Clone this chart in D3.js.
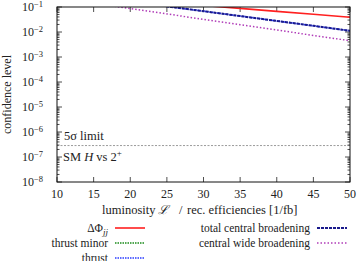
<!DOCTYPE html>
<html>
<head>
<meta charset="utf-8">
<title>confidence level vs luminosity</title>
<script src="https://cdn.jsdelivr.net/npm/d3@7"></script>
<style>
  body { margin: 0; background: #fff; }
  text { font-family: "Liberation Serif", "DejaVu Serif", serif; fill: #222; }
</style>
</head>
<body>
<div id="chart"></div>
<script>

    // luminosity grid (1/fb)
    var lumi = [10, 15, 20, 25, 30, 35, 40, 45, 50];

    // confidence levels (null = off the top)
    var deltaPhi   = [null, null, null, null, 0.115, 0.088, 0.067, 0.051, 0.039];
    var thrustMin  = [];
    var thrust     = [null, null, null, 0.106, 0.068, 0.0434, 0.0277, 0.0177, 0.0112];
    var totCentral = [null, null, null, 0.106, 0.068, 0.0434, 0.0277, 0.0177, 0.0112];
    var cenWide    = [null, null, 0.087, 0.053, 0.032, 0.0197, 0.012, 0.0073, 0.0045];

    var xTicks = [10, 15, 20, 25, 30, 35, 40, 45, 50];
    var yExps = [-1, -2, -3, -4, -5, -6, -7, -8];
    var fiveSigma = 2.87e-7;

    var series = [
        { name: "thrust minor", vals: thrustMin, color: "#1a8a1a", width: 1.5, dash: "1.5,1" },
        { name: "thrust", vals: thrust, color: "#2a3cff", width: 1.5, dash: "1.5,1" },
        { name: "total central broadening", vals: totCentral, color: "#1a1a8c", width: 2, dash: "3,1" },
        { name: "central wide broadening", vals: cenWide, color: "#b03cb8", width: 1.5, dash: "1.5,2" },
        { name: "\u0394\u03A6jj", vals: deltaPhi, color: "#ff2020", width: 1.6, dash: null }
    ];

    var W = 357, H = 261;
    var margin = { left: 57, right: 7, top: 7, bottom: 79 };

    var svg = d3.select("#chart").append("svg")
        .attr("width", W)
        .attr("height", H);

    var x = d3.scaleLinear().domain([10, 50]).range([margin.left, W - margin.right]);
    var y = d3.scaleLog().domain([1e-8, 1e-1]).range([H - margin.bottom, margin.top]);

    svg.append("clipPath").attr("id", "clip")
        .append("rect")
            .attr("x", x(10)).attr("y", y(1e-1))
            .attr("width", x(50) - x(10)).attr("height", y(1e-8) - y(1e-1));

    // minor ticks on log axis
    var minor = [];
    for (var e = -8; e < -1; e++) {
        for (var m = 2; m <= 9; m++) minor.push(m * Math.pow(10, e));
    }

    var ticks = svg.append("g").attr("stroke", "#222").attr("stroke-width", 0.8);
    yExps.forEach(function(e) {
        var yy = y(Math.pow(10, e));
        ticks.append("line").attr("x1", x(10)).attr("x2", x(10) + 5).attr("y1", yy).attr("y2", yy);
        ticks.append("line").attr("x1", x(50)).attr("x2", x(50) - 5).attr("y1", yy).attr("y2", yy);
    });
    minor.forEach(function(v) {
        var yy = y(v);
        ticks.append("line").attr("x1", x(10)).attr("x2", x(10) + 2.5).attr("y1", yy).attr("y2", yy);
        ticks.append("line").attr("x1", x(50)).attr("x2", x(50) - 2.5).attr("y1", yy).attr("y2", yy);
    });
    xTicks.forEach(function(t) {
        var xx = x(t);
        ticks.append("line").attr("x1", xx).attr("x2", xx).attr("y1", y(1e-8)).attr("y2", y(1e-8) - 5);
        ticks.append("line").attr("x1", xx).attr("x2", xx).attr("y1", y(1e-1)).attr("y2", y(1e-1) + 5);
    });

    // 5 sigma line
    svg.append("line")
        .attr("x1", x(10)).attr("x2", x(50))
        .attr("y1", y(fiveSigma)).attr("y2", y(fiveSigma))
        .attr("stroke", "#555").attr("stroke-width", 0.6).attr("stroke-dasharray", "2,1.5");

    svg.append("text").attr("x", x(10) + 7).attr("y", y(fiveSigma) - 6)
        .attr("font-size", 12.5).text("5\u03C3 limit");
    var sm = svg.append("text").attr("x", x(10) + 6).attr("y", y(fiveSigma) + 15)
        .attr("font-size", 12.5);
    sm.append("tspan").text("SM ");
    sm.append("tspan").attr("font-style", "italic").text("H");
    sm.append("tspan").text(" vs 2");
    sm.append("tspan").attr("font-size", 9).attr("dy", -5).text("+");

    // curves
    var line = d3.line()
        .defined(function(d) { return d.v != null; })
        .x(function(d) { return x(d.l); })
        .y(function(d) { return y(d.v); });

    var curves = svg.append("g").attr("clip-path", "url(#clip)");
    series.forEach(function(s) {
        var pts = lumi.map(function(l, i) { return { l: l, v: s.vals[i] == null ? null : s.vals[i] }; });
        var first = pts.findIndex(function(p) { return p.v != null; });
        if (first < 0) return;
        // extend first visible segment above the top so the line reaches the frame
        if (first > 0) {
            var a = pts[first], b = pts[first + 1];
            var slope = (Math.log10(b.v) - Math.log10(a.v)) / (b.l - a.l);
            pts[first - 1] = { l: pts[first - 1].l, v: Math.pow(10, Math.log10(a.v) - slope * (a.l - pts[first - 1].l)) };
        }
        curves.append("path")
            .datum(pts)
            .attr("d", line)
            .attr("fill", "none")
            .attr("stroke", s.color)
            .attr("stroke-width", s.width)
            .attr("stroke-dasharray", s.dash);
    });

    // frame
    svg.append("rect")
        .attr("x", x(10)).attr("y", y(1e-1))
        .attr("width", x(50) - x(10)).attr("height", y(1e-8) - y(1e-1))
        .attr("fill", "none").attr("stroke", "#111").attr("stroke-width", 1);

    // tick labels
    xTicks.forEach(function(t) {
        svg.append("text").attr("x", x(t)).attr("y", y(1e-8) + 16)
            .attr("text-anchor", "middle").attr("font-size", 12).text(t);
    });
    yExps.forEach(function(e) {
        var t = svg.append("text").attr("x", 22).attr("y", y(Math.pow(10, e)) + 4)
            .attr("text-anchor", "start").attr("font-size", 12);
        t.append("tspan").text("10");
        t.append("tspan").attr("font-size", 8.5).attr("dy", -4.5).text("\u2212" + (-e));
    });

    // axis titles
    var xl = svg.append("text").attr("y", 214).attr("font-size", 12.5);
    xl.append("tspan").attr("x", 102).text("luminosity");
    xl.append("tspan").attr("x", 158).attr("font-style", "italic").text("\u2112");
    xl.append("tspan").attr("x", 179).text("/");
    xl.append("tspan").attr("x", 187).text("rec.  efficiencies [1/fb]");

    svg.append("text")
        .attr("transform", "translate(11," + ((y(1e-1) + y(1e-8)) / 2) + ") rotate(-90)")
        .attr("text-anchor", "middle").attr("font-size", 12).text("confidence level");

    // legend
    var legend = [
        { s: series[4], x: 108, y: 228 },
        { s: series[0], x: 108, y: 243 },
        { s: series[1], x: 108, y: 258 },
        { s: series[2], x: 310, y: 228 },
        { s: series[3], x: 310, y: 243 }
    ];
    legend.forEach(function(it) {
        var t = svg.append("text").attr("x", it.x).attr("y", it.y + 4)
            .attr("text-anchor", "end").attr("font-size", 11.5);
        if (it.s === series[4]) {
            t.append("tspan").text("\u0394\u03A6");
            t.append("tspan").attr("font-style", "italic").attr("font-size", 9).attr("dy", 3).text("jj");
        } else {
            t.text(it.s.name);
        }
        svg.append("line")
            .attr("x1", it.x + 7).attr("x2", it.x + 37)
            .attr("y1", it.y).attr("y2", it.y)
            .attr("stroke", it.s.color)
            .attr("stroke-width", it.s.width)
            .attr("stroke-dasharray", it.s.dash);
    });

</script>
</body>
</html>
